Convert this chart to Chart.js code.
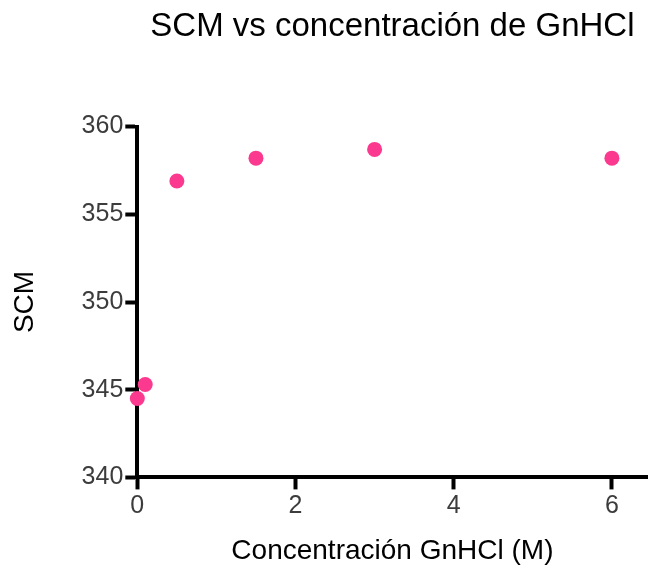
<!DOCTYPE html>
<html>
<head>
<meta charset="utf-8">
<script src="https://cdn.jsdelivr.net/npm/chart.js@4/dist/chart.umd.min.js"></script>
<style>
  html, body { margin: 0; padding: 0; background: #fff; }
  #wrap { width: 655px; height: 568px; position: relative; }
</style>
</head>
<body>
<div id="wrap"><canvas id="c"></canvas></div>
<script>
// Datos
var concGnHCl = [0, 0.1, 0.5, 1.5, 3, 6];
var scmValues = [344.5, 345.3, 356.9, 358.2, 358.7, 358.2];
var xTicks = [0, 2, 4, 6];
var yTicks = [340, 345, 350, 355, 360];

var points = concGnHCl.map(function (x, i) { return { x: x, y: scmValues[i] }; });

var fontFam = '"Liberation Sans", Arial, Helvetica, sans-serif';

new Chart(document.getElementById('c'), {
    type: 'scatter',
    data: {
        datasets: [{
            label: 'SCM',
            data: points,
            backgroundColor: '#fb3a8f',
            borderWidth: 0,
            pointRadius: 7.5,
            pointHoverRadius: 7.5,
            clip: false
        }]
    },
    options: {
        responsive: true,
        maintainAspectRatio: false,
        animation: false,
        layout: { padding: { left: 8, right: 0, top: 0, bottom: 0 } },
        plugins: {
            legend: { display: false },
            tooltip: { enabled: false },
            title: {
                display: true,
                fullSize: false,
                text: 'SCM vs concentración de GnHCl',
                color: '#000',
                font: { family: fontFam, size: 33, weight: 'normal' },
                padding: { top: 7, bottom: 80 }
            }
        },
        scales: {
            x: {
                type: 'linear',
                min: 0,
                max: 6.45,
                afterBuildTicks: function (s) { s.ticks = xTicks.map(function (v) { return { value: v }; }); },
                ticks: { color: '#3c3c3c', font: { family: fontFam, size: 25 }, padding: 2 },
                grid: { drawOnChartArea: false, drawTicks: true, tickLength: 12, tickWidth: 4, tickColor: '#000' },
                border: { display: true, color: '#000', width: 4 },
                title: {
                    display: true,
                    text: 'Concentración GnHCl (M)',
                    color: '#000',
                    font: { family: fontFam, size: 28 },
                    padding: { top: 11, bottom: 0 }
                }
            },
            y: {
                min: 340,
                max: 360,
                afterBuildTicks: function (s) { s.ticks = yTicks.map(function (v) { return { value: v }; }); },
                ticks: { color: '#3c3c3c', font: { family: fontFam, size: 25 }, padding: 2 },
                grid: { drawOnChartArea: false, drawTicks: true, tickLength: 12, tickWidth: 4, tickColor: '#000' },
                border: { display: true, color: '#000', width: 4 },
                title: {
                    display: true,
                    text: 'SCM',
                    color: '#000',
                    font: { family: fontFam, size: 28 },
                    padding: { top: 0, bottom: 38 }
                }
            }
        }
    }
});
</script>
</body>
</html>
